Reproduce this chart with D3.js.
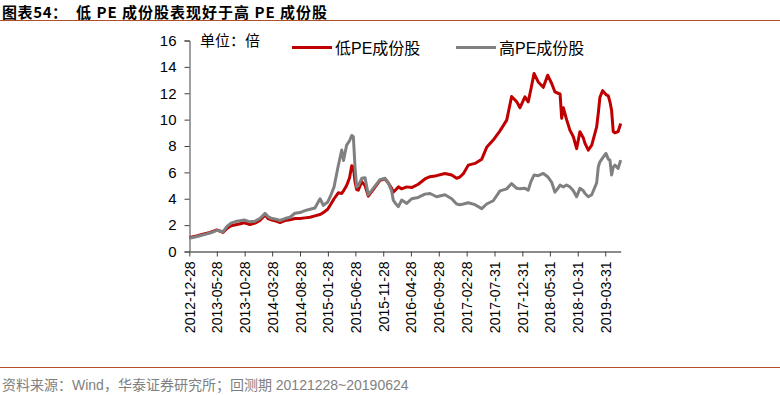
<!DOCTYPE html>
<html>
<head>
<meta charset="utf-8">
<script src="https://cdn.jsdelivr.net/npm/d3@7"></script>
<style>
  body { margin: 0; background: #fff; }
  svg { display: block; font-family: "Liberation Sans", Arial, "Noto Sans CJK SC", sans-serif; }
</style>
</head>
<body>
<svg id="chart" width="780" height="395"></svg>
<script>
var dates = [
  "2012-12-28","2013-01-28","2013-02-25","2013-03-24","2013-04-21","2013-05-28","2013-06-15","2013-07-01",
  "2013-07-23","2013-08-14","2013-09-16","2013-10-26","2013-11-26","2013-12-24","2014-01-20","2014-02-17",
  "2014-03-05","2014-03-27","2014-04-18","2014-05-10","2014-06-06","2014-07-04","2014-07-31","2014-08-28",
  "2014-09-24","2014-10-22","2014-11-18","2014-12-16","2015-01-03","2015-01-27","2015-02-14","2015-03-03",
  "2015-03-26","2015-04-14","2015-04-24","2015-05-11","2015-05-27","2015-06-08","2015-06-17","2015-06-26",
  "2015-07-05","2015-07-14","2015-08-02","2015-08-20","2015-09-07","2015-10-04","2015-11-10","2015-12-08",
  "2015-12-26","2016-01-13","2016-01-22","2016-02-06","2016-02-19","2016-03-08","2016-04-05","2016-05-02",
  "2016-06-07","2016-07-14","2016-08-11","2016-09-16","2016-11-01","2016-12-08","2017-01-04","2017-01-22",
  "2017-02-10","2017-03-09","2017-04-15","2017-05-22","2017-06-18","2017-07-24","2017-08-30","2017-10-06",
  "2017-11-02","2017-11-30","2017-12-18","2018-01-14","2018-02-01","2018-02-16","2018-03-05","2018-03-28",
  "2018-04-25","2018-05-19","2018-06-10","2018-06-28","2018-07-15","2018-07-26","2018-08-04","2018-08-13",
  "2018-08-31","2018-09-18","2018-10-07","2018-10-25","2018-11-12","2018-12-01","2018-12-10","2018-12-28",
  "2019-01-16","2019-02-12","2019-02-21","2019-03-02","2019-03-17","2019-04-04","2019-04-17","2019-04-26",
  "2019-05-05","2019-05-14","2019-05-23","2019-06-10","2019-06-24"
];

// 低PE成份股
var lowPE = [
  1.05,1.15,1.25,1.35,1.45,1.63,1.55,1.45,
  1.75,1.95,2.05,2.18,2.05,2.15,2.35,2.77,
  2.5,2.39,2.3,2.2,2.35,2.4,2.5,2.5,
  2.55,2.6,2.7,2.8,2.95,3.2,3.6,4.0,
  4.45,4.4,4.6,5.0,5.6,6.5,6.4,5.3,
  4.7,4.65,5.3,5.0,4.2,4.7,5.4,5.5,
  5.2,4.8,4.5,4.7,4.9,4.75,4.9,4.85,
  5.1,5.5,5.67,5.75,5.92,5.8,5.55,5.65,
  5.9,6.55,6.68,7.0,7.9,8.45,9.15,9.96,
  11.75,11.35,10.9,11.73,11.35,12.3,13.5,12.86,
  12.45,13.37,12.74,12.1,12.0,11.95,10.1,10.9,
  10.0,9.2,8.7,7.8,9.08,8.6,8.2,7.69,
  8.07,9.45,10.5,11.7,12.2,11.9,11.8,11.35,
  10.7,9.1,9.0,9.1,9.7
];

// 高PE成份股
var highPE = [
  1.0,1.1,1.2,1.3,1.4,1.6,1.55,1.5,
  1.9,2.15,2.3,2.39,2.25,2.3,2.5,2.89,
  2.65,2.5,2.45,2.35,2.5,2.6,2.9,2.95,
  3.1,3.2,3.3,4.0,3.5,3.75,4.3,4.9,
  6.5,7.7,6.9,8.07,8.4,8.8,8.7,6.4,
  4.9,5.0,5.55,5.6,4.3,4.79,5.45,5.55,
  5.2,4.6,3.9,3.6,3.4,3.9,3.65,4.0,
  4.1,4.35,4.4,4.15,4.3,4.0,3.6,3.55,
  3.6,3.7,3.55,3.25,3.6,3.85,4.6,4.75,
  5.15,4.79,4.75,4.8,4.65,5.3,5.8,5.75,
  5.92,5.67,5.25,4.5,4.8,5.04,4.95,4.9,
  5.04,4.9,4.6,4.15,4.79,4.6,4.4,4.15,
  4.3,5.2,6.42,6.8,7.1,7.44,7.0,6.93,
  5.8,6.4,6.55,6.3,6.93
];

var tickDates = [
  "2012-12-28","2013-05-28","2013-10-28","2014-03-28","2014-08-28","2015-01-28",
  "2015-06-28","2015-11-28","2016-04-28","2016-09-28","2017-02-28","2017-07-31",
  "2017-12-31","2018-05-31","2018-10-31","2019-03-31"
];
var yTicks = [0, 2, 4, 6, 8, 10, 12, 14, 16];

var seriesNames = ["低PE成份股", "高PE成份股"];
var seriesColors = ["#c00000", "#808080"];

var parse = d3.timeParse("%Y-%m-%d");
var fmt = d3.timeFormat("%Y-%m-%d");

var svg = d3.select("#chart");

// title + rules
svg.append("text").attr("x", 2).attr("y", 17.5)
    .style("font-family", "'Noto Sans CJK SC', sans-serif")
    .style("font-weight", "bold").style("font-size", "15px")
    .style("letter-spacing", "0.6px")
    .text("图表54：");
svg.append("text").attr("x", 76).attr("y", 17.5)
    .style("font-family", "'Noto Sans CJK SC', sans-serif")
    .style("font-weight", "bold").style("font-size", "15px")
    .style("letter-spacing", "1px")
    .text("低 PE 成份股表现好于高 PE 成份股");
svg.append("line").attr("x1", 0).attr("x2", 780).attr("y1", 20.5).attr("y2", 20.5)
    .attr("stroke", "#b0502e").attr("stroke-width", 1);
svg.append("line").attr("x1", 0).attr("x2", 780).attr("y1", 367.5).attr("y2", 367.5)
    .attr("stroke", "#b0502e").attr("stroke-width", 1);
svg.append("text").attr("x", 2).attr("y", 390)
    .style("font-size", "14px").attr("fill", "#7f7f7f")
    .text("资料来源：Wind，华泰证券研究所；回测期 20121228~20190624");

var x = d3.scaleTime()
    .domain([parse(dates[0]), parse(dates[dates.length - 1])])
    .range([189.3, 620.7]);
var y = d3.scaleLinear().domain([0, 16]).range([251.5, 40.5]);

// y axis
var yAxis = svg.append("g").attr("transform", "translate(189.5,0)")
    .call(d3.axisLeft(y).tickValues(yTicks).tickSize(5).tickPadding(8));
yAxis.select(".domain").attr("stroke", "#404040");
yAxis.selectAll(".tick line").attr("stroke", "#404040");
yAxis.selectAll("text").style("font-size", "15px").attr("fill", "#000")
    .style("font-family", "'Liberation Sans', Arial, sans-serif");

// lines (grey drawn over red, as in the reference)
var line = d3.line()
    .x(function(d) { return x(d.date); })
    .y(function(d) { return y(d.value); });

[lowPE, highPE].forEach(function(vals, i) {
    var data = dates.map(function(d, k) { return { date: parse(d), value: vals[k] }; });
    svg.append("path")
        .datum(data)
        .attr("d", line)
        .attr("fill", "none")
        .attr("stroke", seriesColors[i])
        .attr("stroke-width", 3)
        .attr("stroke-linejoin", "round");
});

// x axis
var xAxis = svg.append("g").attr("transform", "translate(0,251.5)")
    .call(d3.axisBottom(x).tickValues(tickDates.map(parse)).tickFormat(fmt).tickSize(5).tickSizeOuter(0));
xAxis.select(".domain").attr("stroke", "#8c8c8c").attr("stroke-width", 2);
xAxis.selectAll(".tick line").attr("stroke", "#404040");
xAxis.selectAll("text")
    .style("font-size", "14px").attr("fill", "#000")
    .style("font-family", "'Liberation Sans', Arial, sans-serif")
    .attr("transform", "rotate(-90)")
    .attr("text-anchor", "end")
    .attr("x", -10).attr("y", 0).attr("dy", "0.36em");

// unit + legend
svg.append("text").attr("x", 200).attr("y", 46)
    .style("font-size", "15px")
    .style("font-family", "'Noto Sans CJK SC', sans-serif")
    .text("单位：倍");

var legendX = [292, 456];
seriesNames.forEach(function(name, i) {
    var g = svg.append("g").attr("transform", "translate(" + legendX[i] + ",47.5)");
    g.append("line").attr("x1", 0).attr("x2", 40)
        .attr("stroke", seriesColors[i]).attr("stroke-width", 3);
    g.append("text").attr("x", 43).attr("y", 6)
        .style("font-size", "16px")
        .text(name);
});
</script>
</body>
</html>
